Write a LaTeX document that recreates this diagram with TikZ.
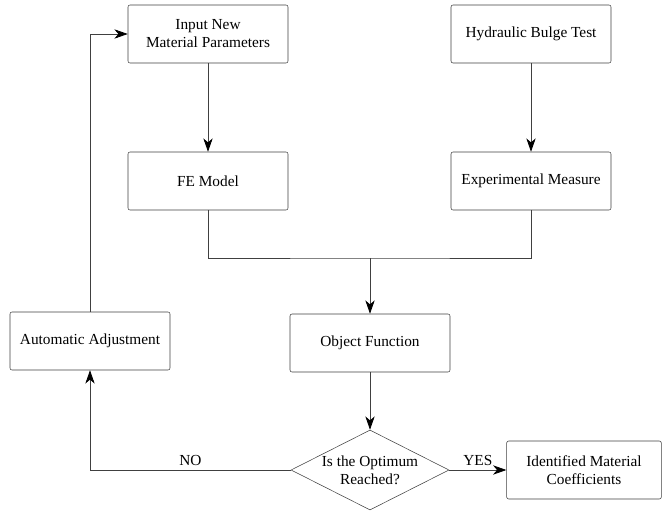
\documentclass[tikz,border=0pt]{standalone}
\usepackage{fontspec}
\setmainfont{Liberation Serif}
\usetikzlibrary{arrows.meta,shapes.geometric}

\begin{document}
\begin{tikzpicture}[x=0.75pt,y=-0.75pt,
  font=\fontsize{11.5}{13.5}\selectfont,
  box/.style = {draw=black!75,rounded corners=1.5pt,fill=white,align=center,
        minimum width=120pt,minimum height=43.5pt,inner sep=2pt},
  decision/.style = {diamond,draw=black!75,fill=white,align=center,aspect=2,
        inner sep=0pt,minimum width=118.5pt,minimum height=60pt},
  line/.style = {draw=black!75,line width=0.6pt},
  arr/.style = {line,-{Stealth[length=10pt,width=7pt,inset=3pt,black]}}]
 \useasboundingbox (0,0) rectangle (666,513);
 \node[box] (input)  at (208,34)  {Input New\\ Material Parameters};
 \node[box] (bulge)  at (531,34)  {Hydraulic Bulge Test};
 \node[box] (fe)     at (208,181) {FE Model};
 \node[box] (exp)    at (531,181) {Experimental Measure};
 \node[box] (adjust) at (90,341)  {Automatic Adjustment};
 \node[box] (obj)    at (370,343) {Object Function};
 \node[decision] (reach) at (370,470) {Is the Optimum\\ Reached?};
 \node[box,minimum width=116pt] (coef) at (584,470) {Identified Material\\ Coefficients};
 \coordinate (join) at (370,258);
 \draw[arr] (input) -- (fe);
 \draw[arr] (bulge) -- (exp);
 \draw[line] (fe.south) |- (join) -| (exp.south);
 \draw[arr] (join) -- (obj);
 \draw[arr] (obj) -- (reach);
 \draw[arr] (reach) -- node[above] {YES} (coef);
 \draw[arr] (reach) -| node[pos=0.25,above] {NO} (adjust.south);
 \draw[arr] (adjust.north) |- (input.west);
\end{tikzpicture}
\end{document}
